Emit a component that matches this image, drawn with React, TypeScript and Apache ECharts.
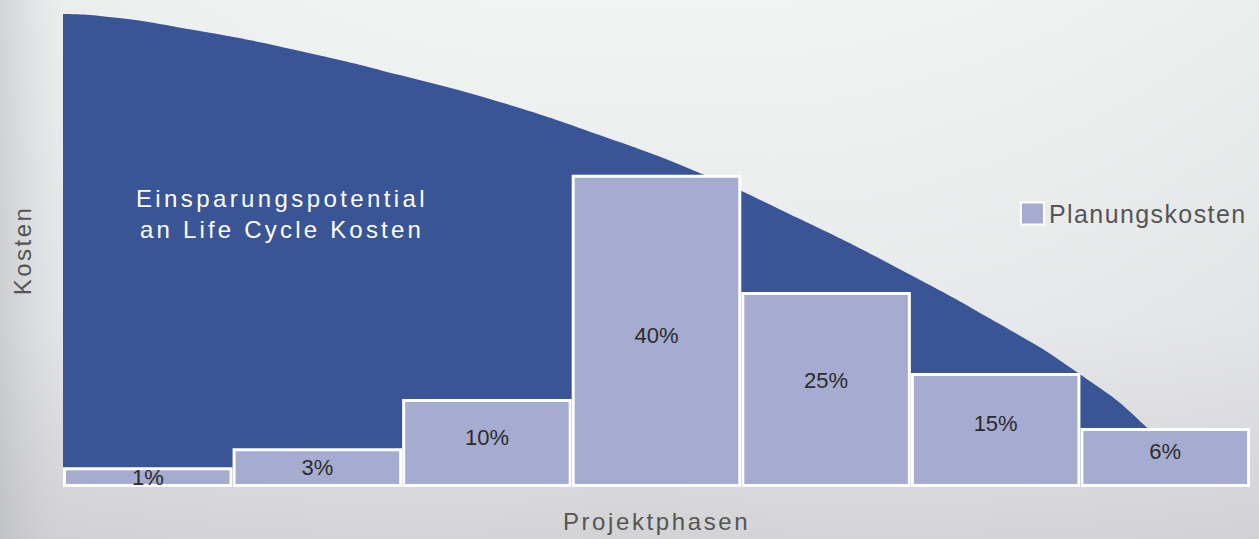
import React, { useEffect, useRef } from "react";
import * as echarts from "echarts";

const phases = ["Phase 1", "Phase 2", "Phase 3", "Phase 4", "Phase 5", "Phase 6", "Phase 7"];
const planningHeights = [4.2, 8.2, 18.6, 66.0, 41.2, 24.1, 12.5];
const planningLabels = ["1%", "3%", "10%", "40%", "25%", "15%", "6%"];
const savingsX = [0, 0.218, 0.807, 1.397, 1.986, 2.575, 3.164, 3.754, 4.343, 4.932, 5.521, 5.963, 6.388, 6.671];
const savingsY = [100, 99.6, 96.4, 92.2, 87.1, 81.4, 74.4, 66.4, 56.7, 46.1, 34.5, 24.7, 12.7, 0];

const seriesName = "Planungskosten";
const areaText = "Einsparungspotential\nan Life Cycle Kosten";
const xName = "Projektphasen";
const yName = "Kosten";

// layout-only: vertical nudge of each bar label (px)
const labelNudge = [0, 0, -6, 5, -9, -7, -6];

const FONT = "Liberation Sans, Arial, sans-serif";

export default function App() {
  const ref = useRef<HTMLDivElement>(null);
  useEffect(() => {
    if (!ref.current) return;
    const chart = echarts.init(ref.current, null, { renderer: "svg" });
    const option: any = {
      animation: false,
      backgroundColor: {
        type: "linear",
        x: 0, y: 0, x2: 0, y2: 1,
        colorStops: [
          { offset: 0, color: "#f2f4f4" },
          { offset: 0.6, color: "#e8e9ea" },
          { offset: 1, color: "#d3d3d5" },
        ],
      },
      grid: { left: 63, right: 9, top: 14, bottom: 52, containLabel: false, outerBoundsMode: "none" },
      legend: {
        data: [seriesName],
        left: 1020,
        top: 201,
        padding: 0,
        icon: "rect",
        itemWidth: 23,
        itemHeight: 22,
        textStyle: { fontSize: 25, color: "#555", fontFamily: FONT },
      },
      xAxis: [
        {
          type: "category",
          data: phases,
          axisLine: { show: false },
          axisTick: { show: false },
          axisLabel: { show: false },
          splitLine: { show: false },
          name: xName,
          nameLocation: "middle",
          nameGap: 22,
          nameTextStyle: { fontSize: 24, color: "#555", fontFamily: FONT },
        },
        {
          type: "value",
          min: 0,
          max: 7,
          show: false,
        },
      ],
      yAxis: {
        type: "value",
        min: 0,
        max: 100,
        axisLine: { show: false },
        axisTick: { show: false },
        axisLabel: { show: false },
        splitLine: { show: false },
        name: yName,
        nameLocation: "middle",
        nameGap: 29,
        nameRotate: 90,
        nameTextStyle: { fontSize: 24, color: "#555", fontFamily: FONT },
      },
      series: [
        {
          type: "line",
          name: "Einsparungspotential",
          xAxisIndex: 1,
          data: savingsX.map((x, i) => [x, savingsY[i]]),
          smooth: 0.5,
          symbol: "none",
          lineStyle: { width: 0 },
          areaStyle: { color: "#3a5596", opacity: 1 },
          silent: true,
          z: 1,
        },
        {
          type: "bar",
          name: seriesName,
          xAxisIndex: 0,
          data: planningHeights.map((v, i) => ({
            value: v,
            label: { offset: [0, labelNudge[i]] },
          })),
          barWidth: "100%",
          barCategoryGap: 0,
          itemStyle: { color: "#a6acd0", borderColor: "#ffffff", borderWidth: 3 },
          label: {
            show: true,
            position: "inside",
            formatter: (p: any) => planningLabels[p.dataIndex],
            fontSize: 22,
            color: "#2b2b2b",
            fontFamily: FONT,
          },
          z: 2,
        },
      ],
      graphic: [
        {
          type: "rect",
          z: -10,
          silent: true,
          shape: { x: 0, y: 0, width: 1259, height: 539 },
          style: {
            fill: {
              type: "linear",
              x: 0, y: 0, x2: 1, y2: 0,
              colorStops: [
                { offset: 0, color: "rgba(170,172,176,0.45)" },
                { offset: 0.05, color: "rgba(200,202,205,0.15)" },
                { offset: 0.5, color: "rgba(255,255,255,0)" },
                { offset: 1, color: "rgba(200,202,205,0.15)" },
              ],
            },
          },
        },
        {
          type: "text",
          x: 282,
          y: 214,
          z: 10,
          style: {
            text: areaText,
            fill: "#ffffff",
            fontSize: 24,
            fontFamily: FONT,
            lineHeight: 31,
            textAlign: "center",
            textVerticalAlign: "middle",
          },
        },
      ],
    };
    chart.setOption(option);
    const spacing: Record<string, string> = {
      "Einsparungspotential": "3.4px",
      "an Life Cycle Kosten": "3.2px",
      "Projektphasen": "2.6px",
      "Kosten": "2.5px",
      "Planungskosten": "1.4px",
    };
    ref.current.querySelectorAll("text, tspan").forEach((t) => {
      const s = (t.textContent || "").trim();
      if (spacing[s]) (t as any).style.letterSpacing = spacing[s];
    });
    return () => chart.dispose();
  }, []);
  return (
    <div
      ref={ref}
      style={{ position: "fixed", left: 0, top: 0, width: 1259, height: 539 }}
    />
  );
}
